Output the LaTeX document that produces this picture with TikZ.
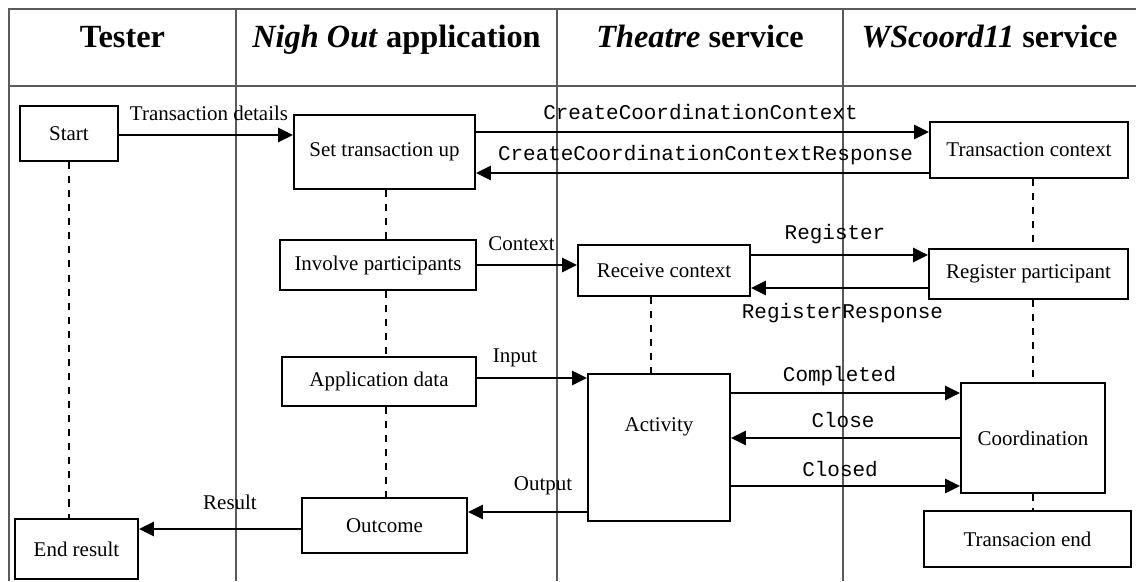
\documentclass[tikz,border=0pt]{standalone}
\usepackage{fontspec}
\setmainfont{Liberation Serif}
\setmonofont{Liberation Mono}
\usetikzlibrary{arrows.meta, positioning, calc}
\definecolor{tablegray}{RGB}{90,90,90}

\begin{document}
\begin{tikzpicture}[x=0.025cm, y=-0.025cm,
    box/.style={draw, line width=1.41pt, inner sep=0pt, font=\fontsize{14.9}{17}\selectfont},
    txt/.style={inner sep=0pt, font=\fontsize{14.9}{17}\selectfont},
    msgtxt/.style={inner sep=0pt, font=\fontsize{14.9}{17}\selectfont\ttfamily},
    head/.style={inner sep=0pt, anchor=base, font=\fontsize{23}{27}\selectfont\bfseries},
    msg/.style={line width=1.41pt, -{Triangle[length=10.5pt, width=10pt]}},
    life/.style={line width=1.41pt, dash pattern=on 5pt off 5pt},
    tabline/.style={draw=tablegray, line width=1.41pt}]
    \useasboundingbox (0,0) rectangle (1136,581);

    % Tabella
    \draw[tabline] (9,581) -- (9,9) -- (1136,9);
    \draw[tabline] (9,86) -- (1136,86);
    \foreach \x in {236,557,843}
        \draw[tabline] (\x,9) -- (\x,581);

    % Intestazioni
    \node[head] (hTester) at (122.5,47) {Tester};
    \node[head] (hApp) at (396.5,47) {\textit{Nigh Out} application};
    \node[head] (hTheatre) at (700,47) {\textit{Theatre} service};
    \node[head] (hCoord) at (989.5,47) {\textit{WScoord11} service};

    % Attivita
    \node[box, minimum width=2.45cm, minimum height=1.375cm] (start) at (69,133.5) {Start};
    \node[box, minimum width=4.525cm, minimum height=1.85cm] (set) at (384.5,152) {Set transaction up};
    \node[box, minimum width=4.95cm, minimum height=1.4cm] (tc) at (1029,150) {Transaction context};
    \node[box, minimum width=4.9cm, minimum height=1.25cm] (inv) at (378,265) {Involve participants};
    \node[box, minimum width=4.3cm, minimum height=1.275cm] (rec) at (664,270.5) {Receive context};
    \node[box, minimum width=4.975cm, minimum height=1.25cm] (reg) at (1028.5,274) {Register participant};
    \node[box, minimum width=4.85cm, minimum height=1.225cm] (app) at (379,381.5) {Application data};
    \node[box, minimum width=3.55cm, minimum height=3.675cm] (act) at (659,447.5) {};
    \node[txt] (actText) at (659,427) {Activity};
    \node[box, minimum width=3.6cm, minimum height=2.75cm] (coord) at (1033,438) {Coordination};
    \node[box, minimum width=4.125cm, minimum height=1.375cm] (out) at (384.5,525.5) {Outcome};
    \node[box, minimum width=3.075cm, minimum height=1.5cm] (endres) at (76.5,549) {End result};
    \node[box, minimum width=5.175cm, minimum height=1.4cm] (tend) at (1027.5,539) {Transacion end};

    % Linee di vita
    \draw[life] (start.south) -- (start.south |- endres.north);
    \draw[life] ($(set.south)+(1.5,0)$) coordinate (ln) -- (ln |- inv.north);
    \draw[life] (ln |- inv.south) -- (ln |- app.north);
    \draw[life] (ln |- app.south) -- (ln |- out.north);
    \draw[life] ($(rec.south)+(-13,0)$) coordinate (lt) -- (lt |- act.north);
    \draw[life] (tc.south -| coord.north) -- (reg.north -| coord.north);
    \draw[life] (reg.south -| coord.north) -- (coord.north);
    \draw[life] (coord.south) -- (tend.north -| coord.south);

    % Messaggi
    \draw[msg] ($(start.east)+(0,1.5)$) coordinate (td) -- (td -| set.west);
    \draw[msg] ($(set.east)+(0,-20)$) coordinate (ccc) -- (ccc -| tc.west);
    \draw[msg] ($(tc.west)+(0,23)$) coordinate (cccr) -- (cccr -| set.east);
    \draw[msg] (inv.east) -- (inv.east -| rec.west);
    \draw[msg] ($(rec.east)+(0,-15.5)$) coordinate (rg) -- (rg -| reg.west);
    \draw[msg] ($(reg.west)+(0,14)$) coordinate (rgr) -- (rgr -| rec.east);
    \draw[msg] ($(app.east)+(0,-3.5)$) coordinate (inp) -- (inp -| act.west);
    \draw[msg] ($(act.east)+(0,-54.5)$) coordinate (cmp) -- (cmp -| coord.west);
    \draw[msg] (coord.west) -- (coord.west -| act.east);
    \draw[msg] ($(act.east)+(0,38.5)$) coordinate (cld) -- (cld -| coord.west);
    \draw[msg] ($(act.west)+(0,64.5)$) coordinate (otp) -- (otp -| out.east);
    \draw[msg] ($(out.west)+(0,3.5)$) coordinate (res) -- (res -| endres.east);

    % Etichette
    \node[txt] (lDetails) at (209,113) {Transaction details};
    \node[msgtxt] (lCcc) at (700.5,112) {CreateCoordinationContext};
    \node[msgtxt] (lCccr) at (705.5,155) {CreateCoordinationContextResponse};
    \node[txt] (lContext) at (521.5,244) {Context};
    \node[msgtxt] (lReg) at (835,234) {Register};
    \node[msgtxt] (lRegr) at (842.5,313) {RegisterResponse};
    \node[txt] (lInput) at (515,358) {Input};
    \node[msgtxt] (lCmp) at (839.5,376) {Completed};
    \node[msgtxt] (lClose) at (843,420) {Close};
    \node[msgtxt] (lClosed) at (840,469) {Closed};
    \node[txt] (lOutput) at (543,486) {Output};
    \node[txt] (lResult) at (230,502) {Result};
\end{tikzpicture}
\end{document}
